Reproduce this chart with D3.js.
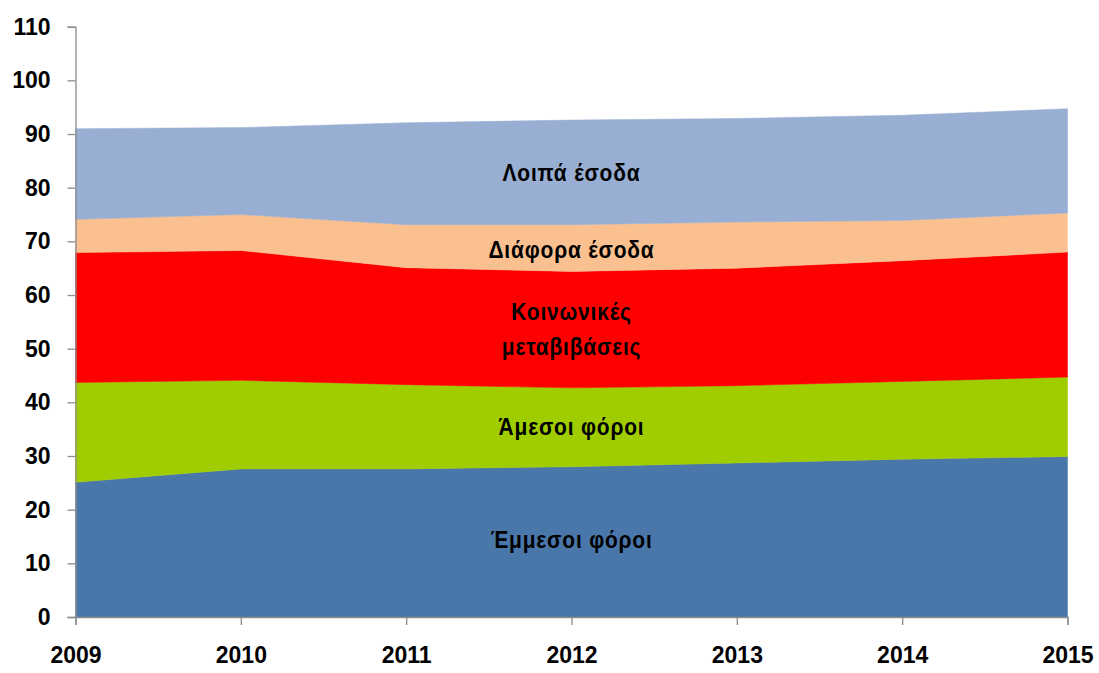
<!DOCTYPE html>
<html>
<head>
<meta charset="utf-8">
<script src="https://cdn.jsdelivr.net/npm/d3@7/dist/d3.min.js"></script>
<style>
  html, body { margin: 0; padding: 0; background: #fff; }
  svg { display: block; }
  text { font-family: "Liberation Sans", Arial, sans-serif; font-weight: bold; fill: #000; }
</style>
</head>
<body>
<svg id="chart" width="1099" height="673"></svg>
<script>
// ---- Data ----
const years = [2009, 2010, 2011, 2012, 2013, 2014, 2015];
const seriesNames = ["Έμμεσοι φόροι", "Άμεσοι φόροι", "Κοινωνικές μεταβιβάσεις", "Διάφορα έσοδα", "Λοιπά έσοδα"];
const indirectTaxes = [25.1, 27.6, 27.6, 28.0, 28.7, 29.4, 29.9];
const directTaxes = [18.6, 16.5, 15.7, 14.7, 14.4, 14.5, 14.8];
const socialTransfers = [24.2, 24.2, 21.8, 21.7, 21.9, 22.5, 23.3];
const variousIncome = [6.2, 6.7, 8.0, 8.7, 8.6, 7.5, 7.3];
const otherIncome = [16.9, 16.2, 19.0, 19.5, 19.3, 19.6, 19.4];
const yTicks = [0, 10, 20, 30, 40, 50, 60, 70, 80, 90, 100, 110];
const colors = ["#4A77AA", "#A0CD00", "#FF0000", "#FAC090", "#98AFD3"];
const areaLabels = [
  { lines: ["Έμμεσοι φόροι"], year: 2012, value: 14.4 },
  { lines: ["Άμεσοι φόροι"], year: 2012, value: 35.3 },
  { lines: ["Κοινωνικές", "μεταβιβάσεις"], year: 2012, value: 53.5 },
  { lines: ["Διάφορα έσοδα"], year: 2012, value: 68.4 },
  { lines: ["Λοιπά έσοδα"], year: 2012, value: 82.7 }
];

// ---- Build table ----
const allSeries = [indirectTaxes, directTaxes, socialTransfers, variousIncome, otherIncome];
const table = years.map((y, i) => {
  const row = { year: y };
  seriesNames.forEach((n, k) => row[n] = allSeries[k][i]);
  return row;
});

const svg = d3.select("#chart");
const margin = { left: 75.5, right: 1099 - 1067.5, top: 26.7, bottom: 673 - 617 };
const W = 1099, H = 673;

const x = d3.scaleLinear().domain([2009, 2015]).range([margin.left, W - margin.right]);
const y = d3.scaleLinear().domain([0, 110]).range([H - margin.bottom, margin.top]);

const stack = d3.stack().keys(seriesNames);
const stacked = stack(table);

const area = d3.area()
  .x(d => x(d.data.year))
  .y0(d => y(d[0]))
  .y1(d => y(d[1]))
  .curve(d3.curveLinear);

svg.append("g").selectAll("path")
  .data(stacked)
  .join("path")
  .attr("d", area)
  .attr("fill", (d, i) => colors[i])
  .attr("stroke", (d, i) => colors[i])
  .attr("stroke-width", 0.5);

// ---- Axes ----
const yAxis = d3.axisLeft(y).tickValues(yTicks).tickSize(8).tickPadding(17);
const gy = svg.append("g").attr("transform", `translate(${margin.left},0)`).call(yAxis);
gy.select(".domain").attr("stroke", "#8c8c8c").attr("stroke-width", 1.3);
gy.selectAll(".tick line").attr("stroke", "#8c8c8c").attr("stroke-width", 1.3);
gy.selectAll(".tick text").style("font-size", "23px").style("font-weight", "bold").attr("fill", "#000");

const xAxis = d3.axisBottom(x).tickValues(years).tickFormat(d3.format("d")).tickSize(8).tickPadding(22);
const gx = svg.append("g").attr("transform", `translate(0,${H - margin.bottom})`).call(xAxis);
gx.select(".domain").attr("stroke", "#8c8c8c").attr("stroke-width", 1.3);
gx.selectAll(".tick line").attr("stroke", "#8c8c8c").attr("stroke-width", 1.3);
gx.selectAll(".tick text").style("font-size", "23px").style("font-weight", "bold").attr("fill", "#000");

// ---- Area labels ----
const lg = svg.append("g");
areaLabels.forEach(l => {
  const n = l.lines.length;
  l.lines.forEach((t, j) => {
    const cx = x(l.year);
    const cy = y(l.value) + (j - (n - 1) / 2) * 35;
    lg.append("text")
      .attr("transform", `translate(${cx},${cy}) scale(1,1.12)`)
      .attr("text-anchor", "middle")
      .attr("dominant-baseline", "central")
      .style("font-size", "21px")
      .style("letter-spacing", "0.8px")
      .text(t);
  });
});
</script>
</body>
</html>
